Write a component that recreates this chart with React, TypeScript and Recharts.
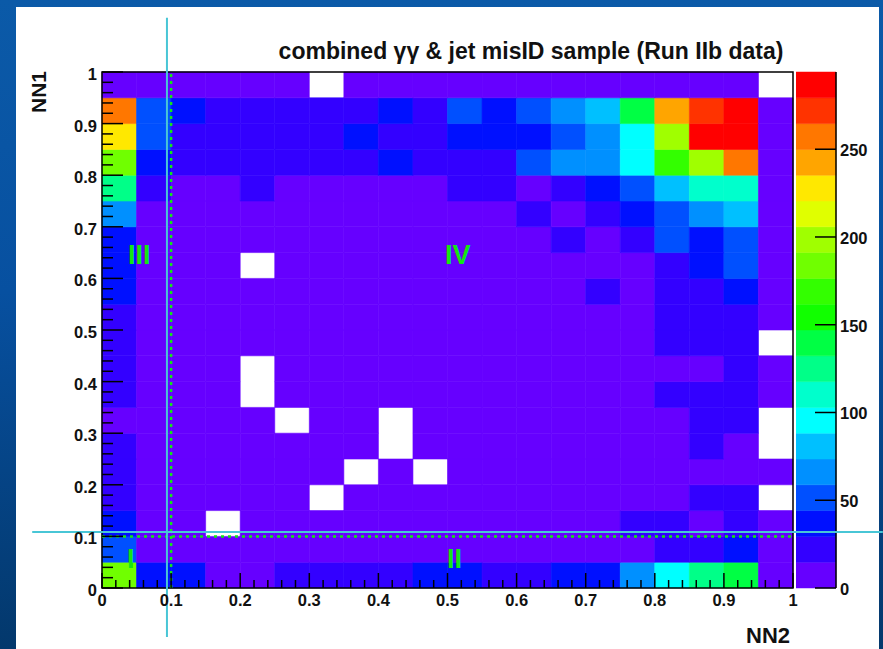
import React from "react";
import {
  ComposedChart,
  XAxis,
  YAxis,
  Scatter,
  ReferenceArea,
  ReferenceLine,
} from "recharts";

// bin edges (20 x 20 bins)
const nn2Edges = [0, 0.05, 0.1, 0.15, 0.2, 0.25, 0.3, 0.35, 0.4, 0.45, 0.5, 0.55, 0.6, 0.65, 0.7, 0.75, 0.8, 0.85, 0.9, 0.95, 1];
const nn1Edges = [0, 0.05, 0.1, 0.15, 0.2, 0.25, 0.3, 0.35, 0.4, 0.45, 0.5, 0.55, 0.6, 0.65, 0.7, 0.75, 0.8, 0.85, 0.9, 0.95, 1];

// entries per NN1 row (bottom to top), one value per NN2 bin; 0 = empty bin
const row00 = [184, 37, 35, 9, 11, 24, 21, 19, 23, 34, 38, 22, 25, 36, 40, 64, 97, 124, 138, 6];
const row01 = [50, 8, 6, 5, 7, 6, 9, 8, 7, 10, 9, 8, 11, 10, 12, 13, 20, 18, 33, 7];
const row02 = [36, 5, 4, 0, 3, 5, 4, 6, 5, 4, 6, 7, 5, 8, 9, 16, 17, 12, 19, 5];
const row03 = [24, 4, 3, 2, 4, 3, 0, 3, 4, 5, 4, 5, 6, 7, 6, 9, 11, 16, 18, 0];
const row04 = [21, 3, 4, 2, 3, 2, 3, 0, 2, 0, 3, 4, 5, 4, 6, 8, 10, 13, 12, 4];
const row05 = [19, 3, 2, 3, 2, 3, 2, 2, 0, 2, 3, 3, 4, 5, 5, 7, 12, 16, 13, 0];
const row06 = [13, 3, 2, 2, 3, 0, 2, 3, 0, 2, 3, 4, 3, 5, 6, 8, 13, 17, 19, 0];
const row07 = [18, 2, 3, 2, 0, 2, 3, 2, 3, 3, 4, 3, 5, 4, 7, 9, 16, 18, 20, 5];
const row08 = [20, 3, 2, 3, 0, 2, 2, 3, 2, 3, 3, 4, 4, 6, 6, 10, 13, 14, 21, 4];
const row09 = [22, 3, 2, 2, 3, 2, 3, 2, 3, 4, 3, 4, 5, 5, 7, 11, 18, 20, 23, 0];
const row10 = [23, 2, 3, 3, 2, 3, 2, 3, 4, 3, 4, 5, 4, 6, 8, 12, 19, 22, 25, 6];
const row11 = [31, 4, 3, 2, 3, 3, 3, 4, 3, 4, 5, 4, 6, 7, 15, 13, 21, 24, 32, 7];
const row12 = [34, 3, 3, 4, 0, 3, 4, 3, 4, 5, 4, 6, 5, 8, 9, 12, 26, 38, 47, 8];
const row13 = [39, 4, 3, 3, 4, 4, 3, 5, 4, 5, 6, 7, 8, 17, 11, 24, 51, 42, 55, 9];
const row14 = [68, 5, 4, 5, 4, 5, 6, 5, 6, 7, 8, 9, 16, 13, 20, 38, 53, 67, 80, 9];
const row15 = [126, 18, 8, 9, 15, 8, 9, 10, 11, 12, 17, 19, 14, 24, 36, 49, 84, 108, 112, 10];
const row16 = [184, 36, 22, 20, 21, 23, 22, 24, 33, 25, 27, 28, 47, 64, 70, 95, 168, 197, 262, 11];
const row17 = [231, 50, 22, 21, 23, 24, 22, 35, 26, 24, 37, 38, 40, 55, 68, 97, 196, 286, 281, 12];
const row18 = [258, 53, 39, 23, 25, 22, 24, 26, 36, 27, 50, 41, 54, 67, 83, 140, 245, 271, 294, 13];
const row19 = [6, 7, 5, 6, 8, 7, 0, 6, 5, 7, 8, 6, 9, 7, 8, 10, 11, 12, 9, 0];

const rows = [row00, row01, row02, row03, row04, row05, row06, row07, row08, row09,
  row10, row11, row12, row13, row14, row15, row16, row17, row18, row19];

const axisTicks = [0, 0.1, 0.2, 0.3, 0.4, 0.5, 0.6, 0.7, 0.8, 0.9, 1];
const axisLabels = ["0", "0.1", "0.2", "0.3", "0.4", "0.5", "0.6", "0.7", "0.8", "0.9", "1"];
const zTicks = [0, 50, 100, 150, 200, 250];

const palette = [
  "#6600ff", "#3300ff", "#0010ff", "#0050ff", "#0090ff",
  "#00c0ff", "#00ffff", "#00ffcc", "#00ff88", "#00ff44",
  "#11ff00", "#33ff00", "#70ff00", "#a0ff00", "#e0ff00",
  "#ffe800", "#ffa500", "#ff7700", "#ff3300", "#ff0000",
];

const FONT = "'Liberation Sans', Arial, sans-serif";
const zMax = Math.max(...rows.flat());
const band = zMax / palette.length;
const colorFor = (v: number) =>
  palette[Math.min(palette.length - 1, Math.floor(v / band))];

// every 0.02 gets a tick, majors get labels
const allTicks: number[] = [];
for (let k = 0; k <= 50; k++) allTicks.push(k / 50);
const majorIndex = (v: number) =>
  axisTicks.findIndex((t) => Math.abs(t - v) < 1e-6);

const bins = rows
  .flatMap((row, j) =>
    row.map((v, i) => ({
      x1: nn2Edges[i],
      x2: nn2Edges[i + 1],
      y1: nn1Edges[j],
      y2: nn1Edges[j + 1],
      x: (nn2Edges[i] + nn2Edges[i + 1]) / 2,
      y: (nn1Edges[j] + nn1Edges[j + 1]) / 2,
      v,
    }))
  )
  .filter((b) => b.v > 0);

const bandData = palette.map((c, k) => ({ x: 0.5, y: (k + 0.5) * band, c }));

const tickText = { fontFamily: FONT, fontWeight: 700, fontSize: 16.5, fill: "#111" };

const XTick = (props: any) => {
  const { x, y, payload } = props;
  const idx = majorIndex(payload.value);
  const major = idx >= 0;
  return (
    <g>
      <line x1={x} x2={x} y1={y} y2={y - (major ? 15 : 8)} stroke="#000" strokeWidth={1.5} />
      {major && (
        <text x={x} y={y + 18} textAnchor="middle" {...tickText}>
          {axisLabels[idx]}
        </text>
      )}
    </g>
  );
};

const YTick = (props: any) => {
  const { x, y, payload } = props;
  const idx = majorIndex(payload.value);
  const major = idx >= 0;
  return (
    <g>
      <line x1={x} x2={x + (major ? 21 : 11)} y1={y} y2={y} stroke="#000" strokeWidth={1.5} />
      {major && (
        <text x={x - 5} y={y + 8} textAnchor="end" {...tickText}>
          {axisLabels[idx]}
        </text>
      )}
    </g>
  );
};

const ZTick = (props: any) => {
  const { x, y, payload } = props;
  return (
    <g>
      <line x1={x - 21} x2={x} y1={y} y2={y} stroke="#000" strokeWidth={1.5} />
      <text x={x + 4} y={y + 7} textAnchor="start" {...tickText}>
        {payload.value}
      </text>
    </g>
  );
};

const abs = (s: React.CSSProperties): React.CSSProperties => ({
  position: "absolute",
  ...s,
});

export default function App() {
  return (
    <div
      style={abs({
        left: 0,
        top: 0,
        width: 883,
        height: 649,
        overflow: "hidden",
        background: "linear-gradient(180deg, #0b5aa8 0%, #0750a0 45%, #03386c 100%)",
        fontFamily: FONT,
      })}
    >
      <div style={abs({ left: 16, top: 7, width: 863, height: 642, background: "#fff" })} />

      {/* colour scale */}
      <div style={abs({ left: 796, top: 0 })}>
        <ComposedChart width={87} height={649} margin={{ top: 72, right: 7, bottom: 61, left: 0 }} data={bandData}>
          <XAxis type="number" dataKey="x" domain={[0, 1]} hide />
          <YAxis
            yAxisId="z"
            orientation="right"
            type="number"
            domain={[0, zMax]}
            allowDataOverflow
            ticks={zTicks}
            interval={0}
            width={40}
            tickSize={0}
            tickMargin={0}
            tickLine={false}
            axisLine={{ stroke: "#000", strokeWidth: 1.5 }}
            tick={ZTick}
          />
          {bandData.map((b, k) => (
            <ReferenceArea
              key={k}
              yAxisId="z"
              x1={0}
              x2={1}
              y1={k * band}
              y2={(k + 1) * band}
              fill={b.c}
              fillOpacity={1}
              stroke={b.c}
              strokeWidth={0.5}
            />
          ))}
          <Scatter yAxisId="z" dataKey="y" isAnimationActive={false} shape={() => <g />} />
        </ComposedChart>
      </div>

      {/* 2D histogram */}
      <div style={abs({ left: 0, top: 0 })}>
        <ComposedChart width={883} height={649} margin={{ top: 72, right: 90, bottom: 31, left: 42 }}>
          <XAxis
            type="number"
            dataKey="x"
            domain={[0, 1]}
            allowDataOverflow
            ticks={allTicks}
            interval={0}
            height={30}
            tickSize={0}
            tickMargin={0}
            tickLine={false}
            axisLine={false}
            tick={XTick}
          />
          <YAxis
            type="number"
            dataKey="y"
            domain={[0, 1]}
            allowDataOverflow
            ticks={allTicks}
            interval={0}
            width={60}
            tickSize={0}
            tickMargin={0}
            tickLine={false}
            axisLine={false}
            tick={YTick}
          />
          {bins.map((b, k) => (
            <ReferenceArea
              key={k}
              x1={b.x1}
              x2={b.x2}
              y1={b.y1}
              y2={b.y2}
              fill={colorFor(b.v)}
              fillOpacity={1}
              stroke={colorFor(b.v)}
              strokeWidth={0.6}
            />
          ))}
          <ReferenceArea x1={0} x2={1} y1={0} y2={1} fill="none" stroke="#000" strokeWidth={1.5} />
          <ReferenceLine x={0.1} stroke="#14e614" strokeWidth={2.5} strokeDasharray="3 4" />
          <ReferenceLine y={0.1} stroke="#14e614" strokeWidth={2.5} strokeDasharray="3 4" />
          <ReferenceLine
            segment={[{ x: 0.094, y: 1.105 }, { x: 0.094, y: -0.095 }]}
            stroke="#48c6d6"
            strokeWidth={2}
            ifOverflow="visible"
          />
          <ReferenceLine
            segment={[{ x: -0.101, y: 0.1085 }, { x: 1.13, y: 0.1085 }]}
            stroke="#48c6d6"
            strokeWidth={2}
            ifOverflow="visible"
          />
          <Scatter data={bins} dataKey="y" isAnimationActive={false} shape={() => <g />} />
        </ComposedChart>
      </div>

      <div
        style={abs({
          left: 531,
          top: 40,
          transform: "translateX(-50%)",
          whiteSpace: "nowrap",
          fontSize: 23,
          lineHeight: "23px",
          fontWeight: 700,
          color: "#111",
        })}
      >
        combined γγ &amp; jet misID sample (Run IIb data)
      </div>
      <div
        style={abs({
          left: 38,
          top: 92,
          transform: "translate(-50%, -50%) rotate(-90deg)",
          fontSize: 21,
          lineHeight: "21px",
          fontWeight: 700,
          color: "#111",
        })}
      >
        NN1
      </div>
      <div
        style={abs({
          left: 768,
          top: 636,
          transform: "translate(-50%, -50%)",
          fontSize: 22,
          lineHeight: "22px",
          fontWeight: 700,
          color: "#111",
        })}
      >
        NN2
      </div>

      {[
        { t: "III", l: 128, tp: 242 },
        { t: "IV", l: 445, tp: 242 },
        { t: "I", l: 127, tp: 546 },
        { t: "II", l: 447, tp: 546 },
      ].map((r) => (
        <div
          key={r.t}
          style={abs({
            left: r.l,
            top: r.tp,
            fontSize: 27,
            lineHeight: "27px",
            fontWeight: 700,
            color: "#14e614",
          })}
        >
          {r.t}
        </div>
      ))}
    </div>
  );
}
